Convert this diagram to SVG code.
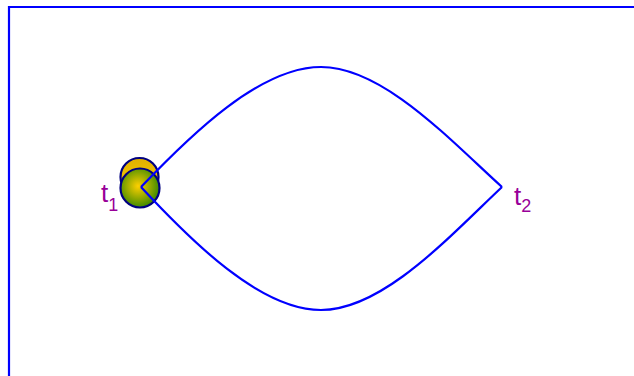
<svg xmlns="http://www.w3.org/2000/svg" width="634" height="376" viewBox="0 0 634 376">
<style>
.edge{fill:none;stroke:#0000ff;stroke-width:2.2}
.lbl{font-family:"Liberation Sans",Arial,sans-serif;fill:#990099}
.node{stroke:#000080;stroke-width:2.2}
</style>
<defs>
<radialGradient id="g1" cx="0.45" cy="0.45" r="0.55">
<stop offset="0" stop-color="#ffd000"/>
<stop offset="1" stop-color="#3f8a00"/>
</radialGradient>
<linearGradient id="g2" x1="0" y1="0" x2="0" y2="1">
<stop offset="0" stop-color="#e0b000"/>
<stop offset="1" stop-color="#ffd400"/>
</linearGradient>
</defs>
<g id="frame">
<path class="edge" d="M9,376 V7 H634"/>
</g>
<g id="t1">
<circle class="node" cx="139.5" cy="177" r="19" fill="url(#g2)"/>
<circle class="node" cx="140" cy="188" r="19.5" fill="url(#g1)"/>
<text class="lbl" x="101" y="202" font-size="26">t<tspan font-size="18" dy="9">1</tspan></text>
</g>
<g id="t2">
<text class="lbl" x="514" y="205" font-size="26">t<tspan font-size="18" dy="7">2</tspan></text>
</g>
<g id="connectors">
<path class="edge" d="M141,187 C191,134.5 260,67 321,67 C383,67 450,140 502,187"/>
<path class="edge" d="M141,187 C191,240.8 260,310 321,310 C383,310 450,236 502,187"/>
</g>
</svg>
